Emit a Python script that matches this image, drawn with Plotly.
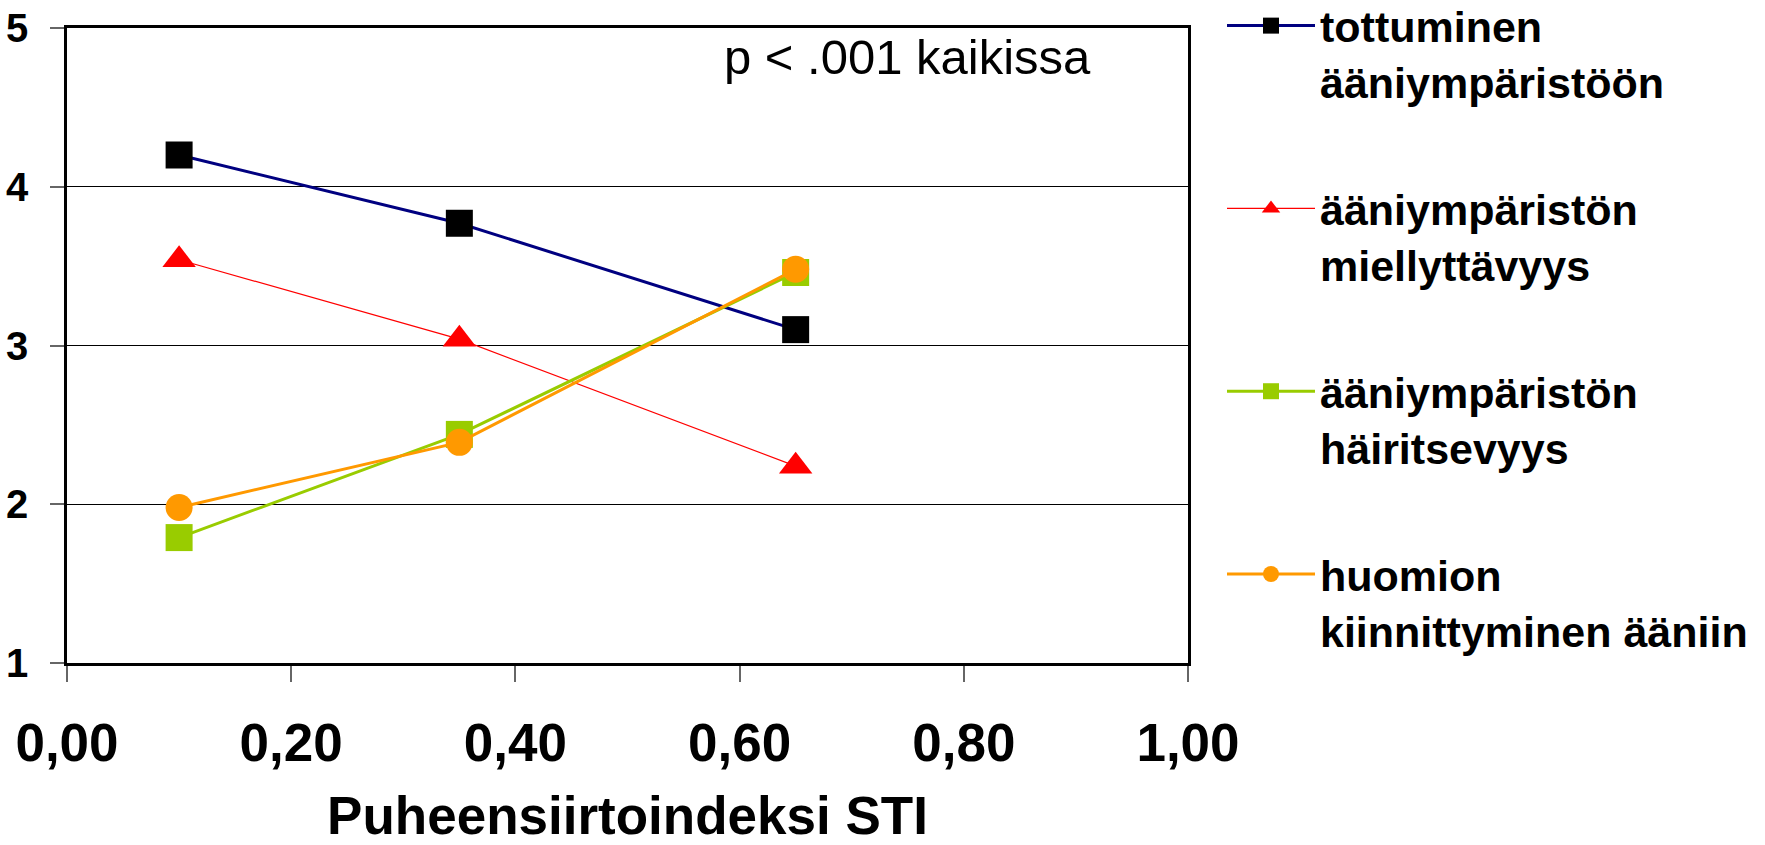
import plotly.graph_objects as go

# ---- data ----
sti = [0.10, 0.35, 0.65]
tottuminen = [4.20, 3.77, 3.10]
miellyttavyys = [3.54, 3.04, 2.24]
hairitsevyys = [1.79, 2.44, 3.46]
huomio = [1.98, 2.39, 3.48]

names = [
    "tottuminen<br>ääniympäristöön",
    "ääniympäristön<br>miellyttävyys",
    "ääniympäristön<br>häiritsevyys",
    "huomion<br>kiinnittyminen ääniin",
]
series = [tottuminen, miellyttavyys, hairitsevyys, huomio]
line_colors = ["#000080", "#FF0000", "#99CC00", "#FF9900"]
marker_colors = ["#000000", "#FF0000", "#99CC00", "#FF9900"]
symbols = ["square", "triangle-up", "square", "circle"]
line_widths = [3, 1.2, 3, 3]
marker_sizes = [27, 29, 27, 27]

x_ticks = [0.0, 0.2, 0.4, 0.6, 0.8, 1.0]
y_ticks = [1, 2, 3, 4, 5]

FONT = "Liberation Sans, Arial, sans-serif"

fig = go.Figure()
for i, (nm, ys) in enumerate(zip(names, series)):
    fig.add_trace(go.Scatter(
        x=sti, y=ys, name=nm, mode="lines+markers",
        legendgroup=f"g{i}",
        line=dict(color=line_colors[i], width=line_widths[i]),
        marker=dict(symbol=symbols[i], size=marker_sizes[i],
                    color=marker_colors[i], line=dict(width=0)),
    ))

fig.add_annotation(
    x=0.75, y=4.815, xref="x", yref="y", text="p < .001 kaikissa",
    showarrow=False, font=dict(family=FONT, size=49, color="black"),
)

fig.update_layout(
    width=1765, height=845,
    margin=dict(l=67, r=577, t=28, b=182, autoexpand=False),
    paper_bgcolor="white", plot_bgcolor="white",
    separators=", ",
    font=dict(family=FONT, color="black"),
    legend=dict(
        xref="container", yref="paper",
        x=1222 / 1765, y=1.058, xanchor="left", yanchor="top",
        traceorder="grouped", tracegroupgap=68, valign="top",
        font=dict(family=FONT, size=43, color="black", weight="bold"),
        itemwidth=88, bgcolor="rgba(0,0,0,0)",
        maxheight=845,
    ),
    xaxis=dict(
        range=[0, 1], tickvals=x_ticks, tickformat=".2f",
        showgrid=False, zeroline=False,
        showline=True, linecolor="black", linewidth=2.5, mirror=True,
        ticks="outside", ticklen=16, tickcolor="#666666", tickwidth=1.5,
        tickfont=dict(family=FONT, size=53, color="black", weight="bold"),
        ticklabelstandoff=16,
        title=dict(text="Puheensiirtoindeksi STI", standoff=56,
                   font=dict(family=FONT, size=53, color="black", weight="bold")),
    ),
    yaxis=dict(
        range=[1, 5], tickvals=y_ticks,
        showgrid=True, gridcolor="black", gridwidth=1,
        zeroline=False,
        showline=True, linecolor="black", linewidth=2.5, mirror=True,
        ticks="outside", ticklen=14, tickcolor="#666666", tickwidth=1.5,
        tickfont=dict(family=FONT, size=40, color="black", weight="bold"),
        ticklabelstandoff=14,
    ),
)

fig.write_html("out.html")
